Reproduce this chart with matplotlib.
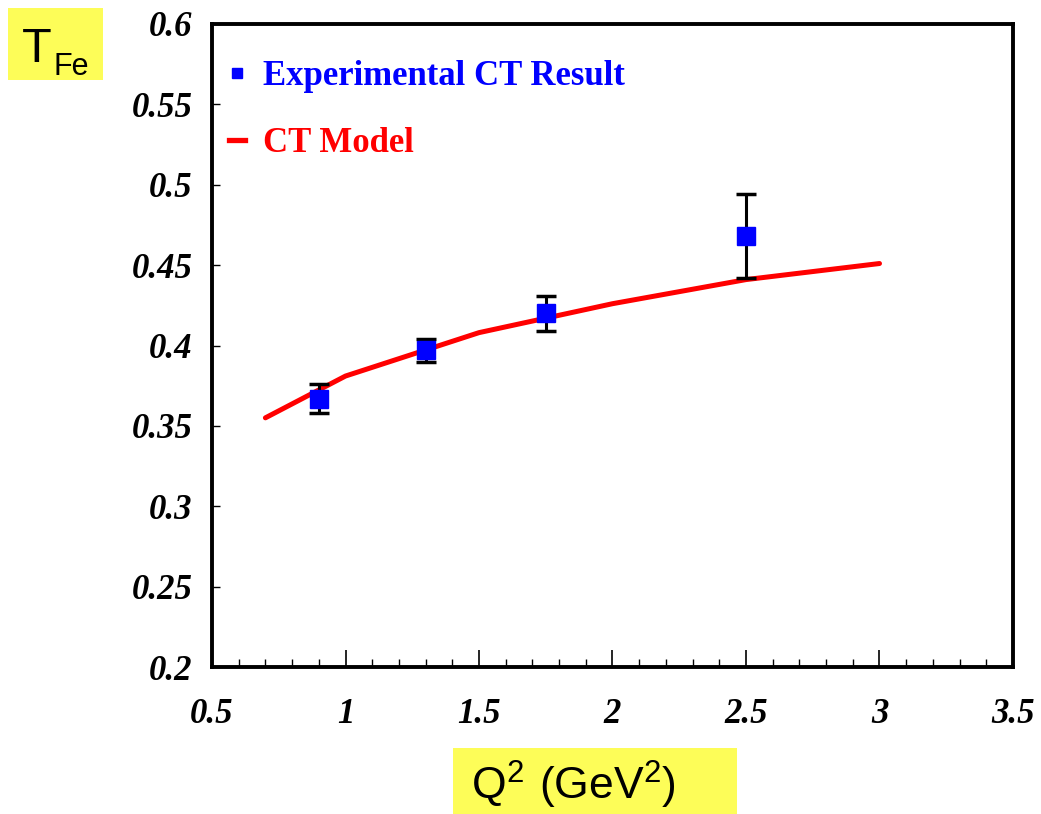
import matplotlib
matplotlib.use("Agg")
import matplotlib.pyplot as plt
from matplotlib.patches import Rectangle
from matplotlib.lines import Line2D
from matplotlib.ticker import MultipleLocator

# measured transparency points
q2_exp = [0.9, 1.3, 1.75, 2.5]
t_exp = [0.367, 0.397, 0.420, 0.468]
t_err = [0.009, 0.007, 0.011, 0.026]

# CT model curve
q2_model = [0.7, 1.0, 1.5, 2.0, 2.5, 3.0]
t_model = [0.355, 0.381, 0.408, 0.426, 0.441, 0.451]

x_ticks = [0.5, 1, 1.5, 2, 2.5, 3, 3.5]
x_ticklabels = ["0.5", "1", "1.5", "2", "2.5", "3", "3.5"]
y_ticks = [0.2, 0.25, 0.3, 0.35, 0.4, 0.45, 0.5, 0.55, 0.6]
y_ticklabels = ["0.2", "0.25", "0.3", "0.35", "0.4", "0.45", "0.5", "0.55", "0.6"]

YELLOW = "#fdfd58"
tick_font = dict(family="Liberation Serif", weight="bold", style="italic", size=25)

W, H = 1041, 814
fig = plt.figure(figsize=(W / 100, H / 100), dpi=100)
ax = fig.add_axes([212 / W, 1 - 667 / H, 801 / W, 643 / H])

ax.plot(q2_model, t_model, color="#ff0000", lw=3.6, solid_capstyle="round", zorder=2)
ax.errorbar(q2_exp, t_exp, yerr=t_err, fmt="none", ecolor="black",
            elinewidth=2.2, capsize=7.5, capthick=2.5, zorder=3)
ax.plot(q2_exp, t_exp, "s", color="#0000ff", ms=13, zorder=4)

ax.set_xlim(0.5, 3.5)
ax.set_ylim(0.2, 0.6)
ax.set_xticks(x_ticks)
ax.set_xticklabels(x_ticklabels, fontdict=tick_font)
ax.set_yticks(y_ticks)
ax.set_yticklabels(y_ticklabels, fontdict=tick_font)
ax.xaxis.set_minor_locator(MultipleLocator(0.1))
ax.tick_params(axis="x", which="major", direction="in", length=12, width=1.2, pad=22)
ax.tick_params(axis="x", which="minor", direction="in", length=6, width=1.0)
ax.tick_params(axis="y", which="major", direction="in", length=6, width=1.0, pad=14)
for s in ax.spines.values():
    s.set_linewidth(2.8)

# legend
handles = [
    Line2D([], [], marker="s", color="#0000ff", ls="none", ms=7.5),
    Line2D([], [], color="#ff0000", lw=3.8),
]
leg = ax.legend(handles, ["Experimental CT Result", "CT Model"],
                loc="upper left", bbox_to_anchor=(0.021, 0.944), frameon=False,
                borderaxespad=0, borderpad=0,
                handlelength=0.46, handletextpad=0.52, labelspacing=0.98,
                prop=dict(family="Liberation Serif", weight="bold", size=25))
leg.get_texts()[0].set_color("#0000ff")
leg.get_texts()[1].set_color("#ff0000")

# yellow label boxes
fig.add_artist(Rectangle((8 / W, 1 - 80 / H), 95 / W, 72 / H,
                         transform=fig.transFigure, facecolor=YELLOW, edgecolor="none"))
fig.text(22 / W, 1 - 62 / H, "T", ha="left", va="baseline",
         fontsize=35, family="Liberation Sans")
fig.text(53 / W, 1 - 75 / H, "Fe", ha="left", va="baseline",
         fontsize=22, family="Liberation Sans")

fig.add_artist(Rectangle((453 / W, 0.0), 284 / W, 66 / H,
                         transform=fig.transFigure, facecolor=YELLOW, edgecolor="none"))
fig.text(471 / W, 1 - 800 / H, r"$\mathregular{Q^2\ (GeV^2)}$", ha="left", va="baseline",
         fontsize=32, family="Liberation Sans")

fig.savefig("out.png", dpi=100)
